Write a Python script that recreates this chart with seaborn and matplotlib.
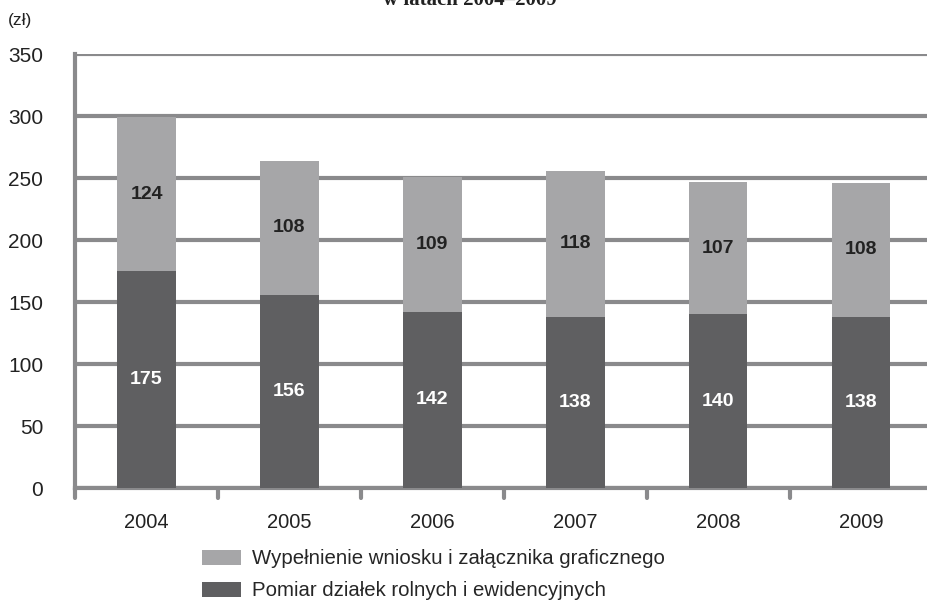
import matplotlib
matplotlib.use("Agg")
import matplotlib.pyplot as plt
import seaborn as sns
import pandas as pd
from matplotlib.patches import Patch

years = ["2004", "2005", "2006", "2007", "2008", "2009"]
pomiar = [175, 156, 142, 138, 140, 138]
wypelnienie = [124, 108, 109, 118, 107, 108]
series_names = ["Wypełnienie wniosku i załącznika graficznego",
                "Pomiar działek rolnych i ewidencyjnych"]
yticks = [0, 50, 100, 150, 200, 250, 300, 350]

sns.set_theme(style="white")
plt.rcParams['font.family'] = ['Liberation Sans', 'DejaVu Sans']

light = "#a6a6a8"
dark = "#5f5f61"
grid = "#8a8a8c"

df = pd.DataFrame({"rok": years, "pomiar": pomiar, "wyp": wypelnienie})
df["total"] = df["pomiar"] + df["wyp"]

fig = plt.figure(figsize=(9.27, 6.01), dpi=100)
ax = fig.add_axes([0.081, 0.188, 0.925, 0.722])

for y in yticks:
    ax.axhline(y, color=grid, lw=3, zorder=0)

sns.barplot(data=df, x="rok", y="total", color=light, width=0.41,
            saturation=1, ax=ax, zorder=2, linewidth=0, edgecolor="none")
sns.barplot(data=df, x="rok", y="pomiar", color=dark, width=0.41,
            saturation=1, ax=ax, zorder=3, linewidth=0, edgecolor="none")

for i, (b, t) in enumerate(zip(pomiar, wypelnienie)):
    ax.text(i, b / 2, str(b), ha="center", va="center", color="white",
            fontsize=14, fontweight="bold", zorder=5)
    ax.text(i, b + t / 2, str(t), ha="center", va="center", color="#222222",
            fontsize=14, fontweight="bold", zorder=5)

ax.set_xlim(-0.5, 5.5)
ax.set_ylim(0, 350)
ax.set_yticks(yticks)
ax.set_yticklabels([str(v) for v in yticks], fontsize=15, color="#222222")
ax.set_xticks(range(len(years)))
ax.set_xticklabels(years, fontsize=14.5, color="#222222")
ax.tick_params(axis="x", length=0, pad=18)
ax.tick_params(axis="y", length=6, width=3, color=grid, pad=17)
for x in [0.5, 1.5, 2.5, 3.5, 4.5]:
    ax.plot([x, x], [0, -8], color=grid, lw=3, clip_on=False, zorder=1)
ax.plot([-0.5, -0.5], [0, -8], color=grid, lw=3, clip_on=False, zorder=1)
ax.set_xlabel("")
ax.set_ylabel("")
for s in ["top", "right"]:
    ax.spines[s].set_visible(False)
ax.spines["left"].set_color(grid)
ax.spines["left"].set_linewidth(3)
ax.spines["bottom"].set_color(grid)
ax.spines["bottom"].set_linewidth(3)

fig.text(0.009, 1 - 20 / 601, "(zł)", fontsize=12.5, color="#222222", va="center")
fig.text(0.507, 1 - 5 / 601, "w latach 2004–2009", fontsize=15, fontweight="bold",
         family=["Liberation Serif", "DejaVu Serif"], ha="center", va="baseline",
         color="#222222")

handles = [Patch(facecolor=light, edgecolor="none"), Patch(facecolor=dark, edgecolor="none")]
fig.legend(handles, series_names, loc="upper left", bbox_to_anchor=(0.209, 1 - 541 / 601),
           frameon=False, fontsize=14.7, handlelength=1.9, handleheight=0.75,
           handletextpad=0.55, labelspacing=0.65, borderaxespad=0)

fig.savefig("out.png", dpi=100)
